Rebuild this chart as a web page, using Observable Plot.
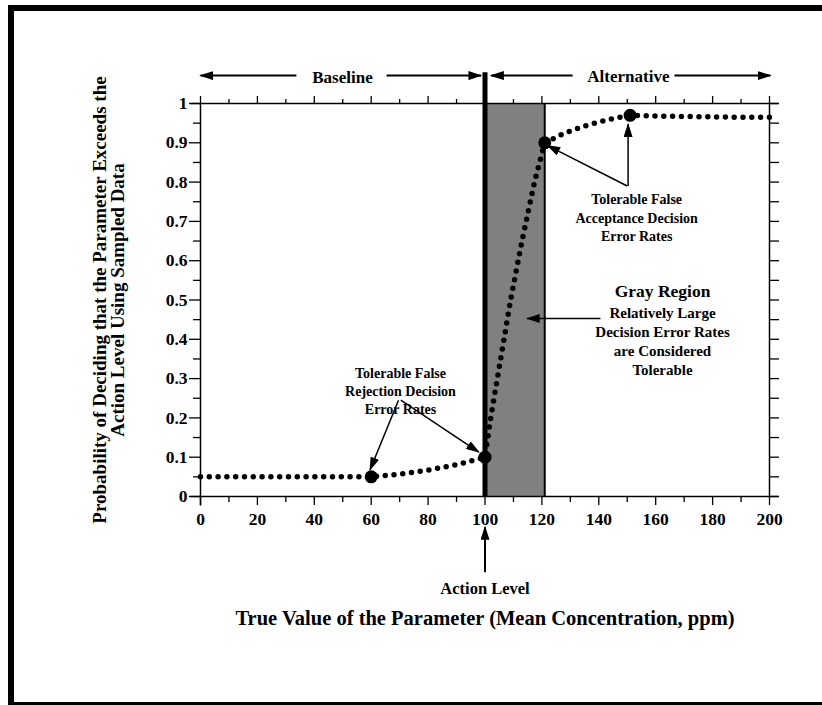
<!DOCTYPE html>
<html>
<head>
<meta charset="utf-8">
<script src="https://cdn.jsdelivr.net/npm/d3@7"></script>
<script src="https://cdn.jsdelivr.net/npm/@observablehq/plot@0.6"></script>
<style>
  html, body { margin: 0; padding: 0; overflow: hidden; background: white; }
  #wrap { position: relative; width: 822px; height: 705px; }
  #frame { position: absolute; left: 8px; top: 5px; width: 830px; height: 703px; box-sizing: border-box;
           border-top: 6px solid black; border-left: 6px solid black; border-bottom: 6px solid black; pointer-events: none; }
</style>
</head>
<body>
<div id="wrap"><div id="chart"></div><div id="frame"></div></div>
<script>
// ---- data ----
const curveX = [0, 10, 20, 30, 40, 50, 60, 70, 80, 90, 100, 102, 105.5, 109, 113, 117.4, 121, 128, 136, 144, 151, 160, 170, 180, 190, 200];
const curveY = [0.05, 0.05, 0.05, 0.05, 0.05, 0.05, 0.05, 0.057, 0.067, 0.081, 0.1, 0.2, 0.35, 0.5, 0.65, 0.8, 0.9, 0.925, 0.945, 0.96, 0.970, 0.968, 0.967, 0.966, 0.965, 0.965];
const markerX = [60, 100, 121, 151];
const markerY = [0.05, 0.1, 0.9, 0.97];
const actionLevel = 100;
const grayEnd = 121;
const xMajor = [0, 20, 40, 60, 80, 100, 120, 140, 160, 180, 200];
const xMinor = [10, 30, 50, 70, 90, 110, 130, 150, 170, 190];
const yMajor = [0, 0.1, 0.2, 0.3, 0.4, 0.5, 0.6, 0.7, 0.8, 0.9, 1];
const yMinor = [0.05, 0.15, 0.25, 0.35, 0.45, 0.55, 0.65, 0.75, 0.85, 0.95];
const yLabels = ["0", "0.1", "0.2", "0.3", "0.4", "0.5", "0.6", "0.7", "0.8", "0.9", "1"];
const xTitle = "True Value of the Parameter (Mean Concentration, ppm)";
const yTitle = "Probability of Deciding that the Parameter Exceeds the\nAction Level Using Sampled Data";
const baselineLabel = "Baseline";
const alternativeLabel = "Alternative";
const actionLabel = "Action Level";
const rejectionLabel = "Tolerable False\nRejection Decision\nError Rates";
const acceptanceLabel = "Tolerable False\nAcceptance Decision\nError Rates";
const grayTitle = "Gray Region";
const grayText = "Relatively Large\nDecision Error Rates\nare Considered\nTolerable";

const curve = curveX.map((x, i) => ({x, y: curveY[i]}));
const markers = markerX.map((x, i) => ({x, y: markerY[i]}));
const one = [0];
const font = "'Liberation Serif', 'Times New Roman', Times, serif";

const arrowLinks = [
  // baseline / alternative
  {x1: 33.7, y1: 1.071, x2: 0, y2: 1.071, w: 2},
  {x1: 65.4, y1: 1.071, x2: 98.6, y2: 1.071, w: 2},
  {x1: 130.8, y1: 1.071, x2: 102.2, y2: 1.071, w: 2},
  {x1: 166.6, y1: 1.071, x2: 200.3, y2: 1.071, w: 2},
  // rejection
  {x1: 69.6, y1: 0.245, x2: 59.6, y2: 0.068, w: 1.5},
  {x1: 70.4, y1: 0.245, x2: 97.8, y2: 0.113, w: 1.5},
  // acceptance
  {x1: 150.3, y1: 0.79, x2: 150.3, y2: 0.947, w: 1.5},
  {x1: 150.0, y1: 0.79, x2: 122.0, y2: 0.893, w: 1.5},
  // gray region
  {x1: 140.6, y1: 0.453, x2: 114.8, y2: 0.453, w: 1.5},
  // action level
  {x1: 100, y1: -0.193, x2: 100, y2: -0.078, w: 2}
];

const chart = Plot.plot({
  width: 822,
  height: 705,
  marginLeft: 200,
  marginRight: 53,
  marginTop: 103,
  marginBottom: 209,
  x: {domain: [0, 200], label: null},
  y: {domain: [0, 1], label: null},
  style: {fontFamily: font, fontWeight: "bold", fontSize: "15px", background: "white", overflow: "visible", color: "black"},
  marks: [
    Plot.rect(one, {x1: actionLevel, x2: grayEnd, y1: 0, y2: 1, fill: "#808080"}),
    Plot.ruleX([grayEnd], {y1: 0, y2: 1, stroke: "black", strokeWidth: 2}),
    // box with extended corners
    Plot.ruleY([0, 1], {x1: -3.3, x2: 203.3, stroke: "black", strokeWidth: 1.5}),
    Plot.ruleX([0], {y1: -0.024, y2: 1, stroke: "black", strokeWidth: 1.5}),
    Plot.ruleX([200], {y1: 0, y2: 1, stroke: "black", strokeWidth: 1.5}),
    // axes
    Plot.axisX({anchor: "bottom", ticks: xMajor, tickSize: 9, tickPadding: 7, tickFormat: d => String(d), fontSize: 17.5, fontWeight: "bold", label: null, strokeWidth: 1.3}),
    Plot.axisX({anchor: "bottom", ticks: xMinor, tickSize: 6, tickFormat: () => "", label: null, strokeWidth: 1.3}),
    Plot.axisX({anchor: "top", ticks: xMajor, tickSize: 8, tickFormat: () => "", label: null, strokeWidth: 1.3}),
    Plot.axisX({anchor: "top", ticks: xMinor, tickSize: 5, tickFormat: () => "", label: null, strokeWidth: 1.3}),
    Plot.axisY({anchor: "left", ticks: yMajor, tickSize: 11, tickPadding: 2, tickFormat: (d, i) => yLabels[i], fontSize: 17.5, fontWeight: "bold", label: null, strokeWidth: 1.3}),
    Plot.axisY({anchor: "left", ticks: yMinor, tickSize: 7, tickFormat: () => "", label: null, strokeWidth: 1.3}),
    Plot.axisY({anchor: "right", ticks: yMajor.concat(yMinor), tickSize: 9, tickFormat: () => "", label: null, strokeWidth: 1.3}),
    // curve
    Plot.line(curve, {x: "x", y: "y", curve: "linear", stroke: "black", strokeWidth: 5.5, strokeDasharray: "0 8.8", strokeLinecap: "round"}),
    Plot.dot(markers, {x: "x", y: "y", r: 6.5, fill: "black"}),
    // action level line
    Plot.ruleX([actionLevel], {y1: 0, y2: 1.078, stroke: "black", strokeWidth: 5}),
    // arrows
    Plot.link(arrowLinks, {x1: "x1", y1: "y1", x2: "x2", y2: "y2", stroke: "black", strokeWidth: "w"}),
    // texts
    Plot.text([baselineLabel], {x: 49.9, y: 1.066, text: d => d, fontSize: 17, fontWeight: "bold"}),
    Plot.text([alternativeLabel], {x: 150.4, y: 1.068, text: d => d, fontSize: 17, fontWeight: "bold"}),
    Plot.text([rejectionLabel], {x: 70.3, y: 0.27, text: d => d, fontSize: 14, fontWeight: "bold", lineHeight: 1.3}),
    Plot.text([acceptanceLabel], {x: 153.3, y: 0.712, text: d => d, fontSize: 14, fontWeight: "bold", lineHeight: 1.3}),
    Plot.text([grayTitle], {x: 162.4, y: 0.522, text: d => d, fontSize: 17.5, fontWeight: "bold"}),
    Plot.text([grayText], {x: 162.4, y: 0.397, text: d => d, fontSize: 15, fontWeight: "bold", lineHeight: 1.27}),
    Plot.text([actionLabel], {x: 100, y: -0.235, text: d => d, fontSize: 16.5, fontWeight: "bold"}),
    Plot.text([xTitle], {x: 100, y: -0.31, text: d => d, fontSize: 20.5, fontWeight: "bold"}),
    Plot.text([yTitle], {x: -32, y: 0.5, text: d => d, rotate: -90, fontSize: 19, fontWeight: "bold", lineHeight: 0.96})
  ]
});

// filled arrowheads
const ns = "http://www.w3.org/2000/svg";
const defs = document.createElementNS(ns, "defs");
const marker = document.createElementNS(ns, "marker");
marker.setAttribute("id", "ahead");
marker.setAttribute("viewBox", "0 0 10 10");
marker.setAttribute("refX", "9");
marker.setAttribute("refY", "5");
marker.setAttribute("markerWidth", "14");
marker.setAttribute("markerHeight", "9");
marker.setAttribute("markerUnits", "userSpaceOnUse");
marker.setAttribute("preserveAspectRatio", "none");
marker.setAttribute("orient", "auto");
const mp = document.createElementNS(ns, "path");
mp.setAttribute("d", "M0,0L10,5L0,10z");
mp.setAttribute("fill", "black");
marker.appendChild(mp);
defs.appendChild(marker);
chart.insertBefore(defs, chart.firstChild);
chart.querySelectorAll('g[aria-label="link"] path, g[aria-label="link"] line').forEach(p => p.setAttribute("marker-end", "url(#ahead)"));

document.getElementById("chart").appendChild(chart);
</script>
</body>
</html>
